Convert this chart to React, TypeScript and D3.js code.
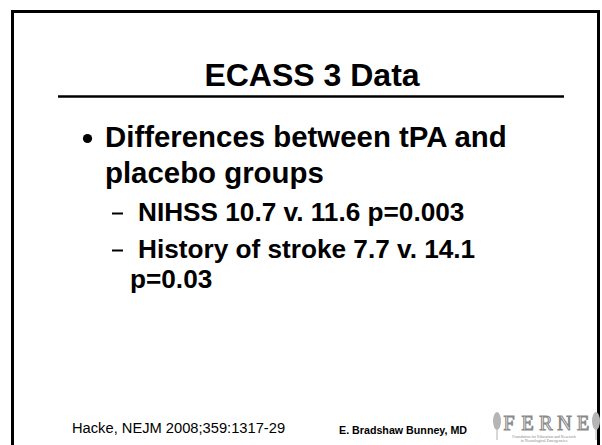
import React, { useEffect, useRef } from 'react';
import * as d3 from 'd3';

// slide text
const title = 'ECASS 3 Data';
const bulletLines = ['Differences between tPA and', 'placebo groups'];
const subItems = ['NIHSS 10.7 v. 11.6 p=0.003', 'History of stroke 7.7 v. 14.1'];
const subWrap = ['', 'p=0.03'];
const citation = 'Hacke, NEJM 2008;359:1317-29';
const author = 'E. Bradshaw Bunney, MD';
const logoLetters = ['F', 'E', 'R', 'N', 'E'];
const logoTagline = ['Foundation for Education and Research', 'in Neurological Emergencies'];

const W = 602;
const H = 445;
const FONT = '"Liberation Sans", Arial, Helvetica, sans-serif';

const App = () => {
  const ref = useRef<SVGSVGElement | null>(null);

  useEffect(() => {
    const svg = d3.select(ref.current);
    svg.selectAll('*').remove();

    svg.append('rect').attr('width', W).attr('height', H).attr('fill', '#fff');

    // slide frame
    svg.append('rect')
      .attr('x', 12.5).attr('y', 11.5)
      .attr('width', 586).attr('height', 520)
      .attr('fill', 'none').attr('stroke', '#000').attr('stroke-width', 3);

    // title + rule
    svg.append('text')
      .attr('x', 312).attr('y', 86)
      .attr('text-anchor', 'middle')
      .style('font-family', FONT).style('font-weight', 'bold').style('font-size', '32px')
      .text(title);
    svg.append('line')
      .attr('x1', 58).attr('x2', 564).attr('y1', 96.5).attr('y2', 96.5)
      .attr('stroke', '#000').attr('stroke-width', 2.5);

    // main bullet
    const y1 = d3.scaleLinear().domain([0, 1]).range([147, 182.5]);
    svg.append('circle')
      .attr('cx', 87.5).attr('cy', 138.5).attr('r', 4.6)
      .attr('fill', '#000');
    svg.selectAll('text.l1').data(bulletLines).enter().append('text')
      .attr('class', 'l1')
      .attr('x', 105).attr('y', (d, i) => y1(i))
      .style('font-family', FONT).style('font-weight', 'bold').style('font-size', '29.4px')
      .text(d => d);

    // sub items
    const y2 = d3.scaleLinear().domain([0, 1]).range([221, 258]);
    const sub = svg.selectAll('g.sub').data(subItems).enter().append('g')
      .attr('class', 'sub')
      .attr('transform', (d, i) => `translate(0,${y2(i)})`);
    sub.append('line')
      .attr('x1', 112).attr('x2', 123).attr('y1', -7.5).attr('y2', -7.5)
      .attr('stroke', '#000').attr('stroke-width', 2);
    sub.append('text')
      .attr('x', 138).attr('y', 0)
      .style('font-family', FONT).style('font-weight', 'bold').style('font-size', '26.2px')
      .text(d => d);
    sub.append('text')
      .attr('x', 130).attr('y', 30)
      .style('font-family', FONT).style('font-weight', 'bold').style('font-size', '26.2px')
      .text((d, i) => subWrap[i]);

    // footer
    svg.append('text')
      .attr('x', 72).attr('y', 433)
      .style('font-family', FONT).style('font-size', '14.7px')
      .text(citation);
    svg.append('text')
      .attr('x', 339).attr('y', 434)
      .style('font-family', FONT).style('font-weight', 'bold').style('font-size', '10.7px')
      .text(author);

    // FERNE logo
    const logo = svg.append('g').attr('fill', '#9a9a9a');
    const lx = d3.scalePoint<number>().domain(d3.range(logoLetters.length)).range([509, 583]);
    logo.selectAll('text.ltr').data(logoLetters).enter().append('text')
      .attr('class', 'ltr')
      .attr('x', (d, i) => lx(i) as number).attr('y', 430)
      .attr('text-anchor', 'middle')
      .style('font-family', '"Liberation Serif", "Times New Roman", serif').style('font-size', '20px')
      .attr('fill', '#fff').attr('stroke', '#8a8a8a').attr('stroke-width', 1.1)
      .text(d => d);
    [497, 596].forEach(cx => {
      logo.append('ellipse').attr('cx', cx).attr('cy', 421).attr('rx', 4).attr('ry', 9)
        .attr('fill', '#b5b5b5');
      logo.append('path')
        .attr('d', `M${cx},430 L${cx},440`)
        .attr('stroke', '#b0b0b0').attr('stroke-width', 1);
    });
    logo.selectAll('text.tag').data(logoTagline).enter().append('text')
      .attr('class', 'tag')
      .attr('x', 544).attr('y', (d, i) => 437.5 + i * 4)
      .attr('text-anchor', 'middle')
      .style('font-family', '"Liberation Serif", serif').style('font-size', '4px')
      .attr('fill', '#888')
      .text(d => d);
  }, []);

  return (
    <svg ref={ref} width={W} height={H}
      style={{ position: 'absolute', left: 0, top: 0, display: 'block' }} />
  );
};

export default App;
